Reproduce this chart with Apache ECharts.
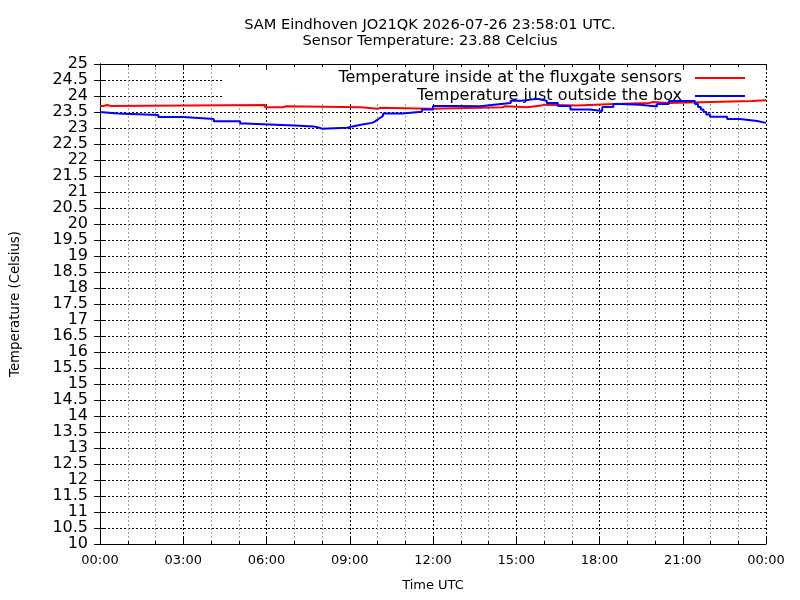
<!DOCTYPE html>
<html>
<head>
<meta charset="utf-8">
<script src="https://cdn.jsdelivr.net/npm/echarts@6/dist/echarts.min.js"></script>
<style>html,body{margin:0;padding:0;background:#fff}#c{width:800px;height:600px}</style>
</head>
<body>
<div id="c"></div>
<script>
var titleLines = ['SAM Eindhoven JO21QK 2026-07-26 23:58:01 UTC.', 'Sensor Temperature: 23.88 Celcius'];
var seriesNames = ['Temperature inside at the fluxgate sensors', 'Temperature just outside the box'];
var xTickHours = [0, 3, 6, 9, 12, 15, 18, 21, 24];
// [hour, °C] at the start of each step
var insideHours = [0, 0.15, 0.25, 0.4, 5.95, 6.6, 6.7, 9.4, 10.0, 10.1, 11.9, 13.7, 14.5, 14.6, 15.4, 15.9, 16.0, 17.2, 18.5, 19.8, 19.9, 20.5, 23.5, 24];
var insideTemps = [23.69, 23.72, 23.69, 23.72, 23.65, 23.68, 23.65, 23.6, 23.63, 23.6, 23.63, 23.65, 23.68, 23.65, 23.7, 23.73, 23.7, 23.75, 23.78, 23.81, 23.78, 23.84, 23.87, 23.87];
var outsideHours = [0, 0.1, 0.65, 2.1, 3.0, 4.1, 5.05, 5.2, 7.0, 7.7, 7.9, 8.0, 8.9, 9.1, 9.4, 9.8, 9.9, 10.0, 10.1, 10.2, 10.9, 11.6, 12.0, 12.9, 13.7, 14.2, 14.8, 15.2, 15.75, 16.1, 16.5, 16.95, 17.65, 18.1, 18.5, 18.75, 19.45, 20.07, 20.5, 21.44, 21.55, 21.65, 21.75, 21.85, 21.98, 22.6, 23.06, 23.68, 24];
var outsideTemps = [23.49, 23.45, 23.41, 23.34, 23.28, 23.21, 23.14, 23.08, 23.05, 23.01, 22.98, 23.01, 23.05, 23.1, 23.16, 23.2, 23.26, 23.32, 23.38, 23.45, 23.51, 23.58, 23.69, 23.68, 23.73, 23.78, 23.85, 23.91, 23.85, 23.78, 23.69, 23.58, 23.53, 23.66, 23.75, 23.73, 23.67, 23.75, 23.84, 23.75, 23.66, 23.58, 23.5, 23.42, 23.35, 23.28, 23.22, 23.16, 23.16];

// each value holds until the next sample time
function steps(hours, temps) {
  var out = [];
  for (var i = 0; i < hours.length; i++) {
    out.push([hours[i], temps[i]]);
    if (i + 1 < hours.length) out.push([hours[i + 1], temps[i]]);
  }
  return out;
}
function fmtHour(v) { var h = Math.round(v) % 24; return (h < 10 ? '0' : '') + h + ':00'; }

var FONT = 'DejaVu Sans';
var chart = echarts.init(document.getElementById('c'));
var dash = [2, 2];
chart.setOption({
  backgroundColor: '#fff',
  animation: false,
  textStyle: { fontFamily: FONT, color: '#000' },
  title: {
    text: titleLines.join('\n'),
    left: 430, top: 17, textAlign: 'center', padding: 0,
    textStyle: { fontFamily: FONT, fontSize: 14.6, fontWeight: 'normal', color: '#000', lineHeight: 16 }
  },
  legend: {
    orient: 'vertical', right: 50, top: 65, align: 'right', itemGap: 2,
    itemWidth: 50, itemHeight: 2, icon: 'rect', selectedMode: false,
    textStyle: { fontFamily: FONT, fontSize: 16, color: '#000', lineHeight: 16, padding: [0, 8, 0, 0] },
    data: seriesNames
  },
  graphic: [{
    type: 'rect', z: 1, silent: true,
    shape: { x: 222, y: 65, width: 543, height: 37 },
    style: { fill: '#fff' }
  }],
  grid: { left: 100, right: 34, top: 64, bottom: 56 },
  xAxis: [{
    type: 'value', min: 0, max: 24, interval: 3, position: 'bottom',
    name: 'Time UTC', nameLocation: 'middle', nameGap: 35,
    nameTextStyle: { fontFamily: FONT, fontSize: 13, color: '#000' },
    axisLine: { lineStyle: { color: '#000', width: 1 } },
    axisTick: { inside: true, length: 6, lineStyle: { color: '#000' } },
    minorTick: { show: true, splitNumber: 3, length: 3, lineStyle: { color: '#000' } },
    axisLabel: { margin: 10, fontFamily: FONT, fontSize: 13, color: '#000', formatter: fmtHour },
    splitLine: { show: true, lineStyle: { color: '#000', type: dash, width: 1 } },
    minorSplitLine: { show: true, lineStyle: { color: '#a0a0a0', type: dash, width: 1 } }
  }, {
    type: 'value', min: 0, max: 24, interval: 3, position: 'top', z: 3,
    axisLine: { show: true, lineStyle: { color: '#000', width: 1 } },
    axisTick: { inside: true, length: 6, lineStyle: { color: '#000' } },
    minorTick: { show: true, splitNumber: 3, length: 3, lineStyle: { color: '#000' } },
    axisLabel: { show: false }, splitLine: { show: false }
  }],
  yAxis: [{
    type: 'value', min: 10, max: 25, interval: 0.5, position: 'left',
    name: 'Temperature (Celsius)', nameLocation: 'middle', nameGap: 78, nameRotate: 90,
    nameTextStyle: { fontFamily: FONT, fontSize: 13.3, color: '#000' },
    axisLine: { show: true, lineStyle: { color: '#000', width: 1 } },
    axisTick: { show: true, inside: true, length: 6, lineStyle: { color: '#000' } },
    axisLabel: { margin: 12, fontFamily: FONT, fontSize: 16, color: '#000' },
    splitLine: { show: true, lineStyle: { color: '#000', type: dash, width: 1 } }
  }, {
    type: 'value', min: 10, max: 25, interval: 0.5, position: 'right', z: 3,
    axisLine: { show: true, lineStyle: { color: '#000', width: 1 } },
    axisTick: { show: true, inside: true, length: 6, lineStyle: { color: '#000' } },
    axisLabel: { show: false }, splitLine: { show: false }
  }],
  series: [{
    name: seriesNames[0], type: 'line', showSymbol: false, z: 5,
    xAxisIndex: 0, yAxisIndex: 0,
    itemStyle: { color: '#ff0000' }, lineStyle: { color: '#ff0000', width: 2 },
    data: steps(insideHours, insideTemps)
  }, {
    name: seriesNames[1], type: 'line', showSymbol: false, z: 5,
    xAxisIndex: 0, yAxisIndex: 0,
    itemStyle: { color: '#0000ff' }, lineStyle: { color: '#0000ff', width: 2 },
    data: steps(outsideHours, outsideTemps)
  }]
});
</script>
</body>
</html>
